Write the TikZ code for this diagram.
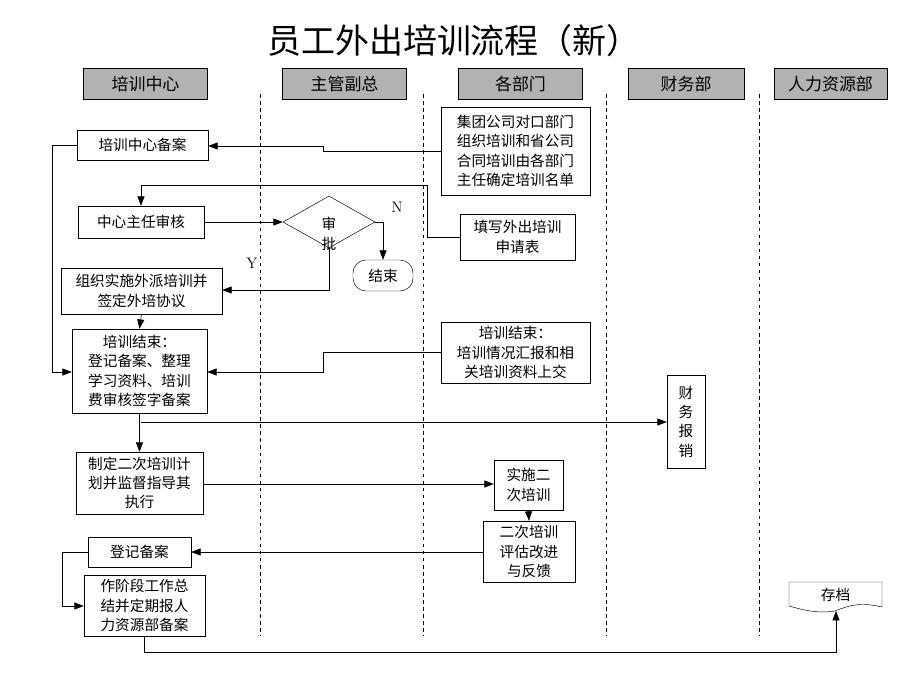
\documentclass[tikz,border=0pt]{standalone}
\usepackage{fontspec}
\newfontfamily\cjk{Noto Sans CJK SC}
\usepackage{tikz}
\usetikzlibrary{shapes.geometric, arrows.meta}

\begin{document}
\begin{tikzpicture}[x=0.03cm, y=-0.03cm,
    box/.style={rectangle, draw, inner sep=1pt, align=center, font=\cjk\fontsize{12.5}{16.5}\selectfont},
    lane/.style={rectangle, draw, thick, fill=black!30, minimum width=3.7cm, minimum height=0.93cm, font=\cjk\fontsize{14.5}{17}\selectfont},
    sep/.style={dashed, thick},
    arrow/.style={-{Triangle[length=8pt, width=6pt]}}
]
    \useasboundingbox (0,0) rectangle (920,690);

    % Title
    \node[font=\cjk\fontsize{29}{34}\selectfont] (title) at (454,41) {员工外出培训流程（新）};

    % Lanes
    \node[lane] (lane1) at (145.5,84) {培训中心};
    \node[lane] (lane2) at (344.5,84) {主管副总};
    \node[lane] (lane3) at (520.5,84) {各部门};
    \node[lane, minimum width=3.48cm] (lane4) at (686,84) {财务部};
    \node[lane, minimum width=3.39cm] (lane5) at (830.5,84) {人力资源部};

    % Separators
    \coordinate (s1a) at (260,94);  \coordinate (s1b) at (260,636);
    \coordinate (s2a) at (423,94);  \coordinate (s2b) at (423,636);
    \coordinate (s3a) at (606,94);  \coordinate (s3b) at (606,636);
    \coordinate (s4a) at (759,94);  \coordinate (s4b) at (759,636);
    \draw[sep] (s1a) -- (s1b);
    \draw[sep] (s2a) -- (s2b);
    \draw[sep] (s3a) -- (s3b);
    \draw[sep] (s4a) -- (s4b);

    % Training centre
    \node[box, minimum width=3.93cm, minimum height=0.9cm] (beian) at (142.5,145) {培训中心备案};
    \node[box, minimum width=3.78cm, minimum height=0.96cm] (shenhe) at (141,222) {中心主任审核};
    \node[box, minimum width=4.83cm, minimum height=1.38cm] (zuzhi) at (141.5,291) {组织实施外派培训并\\签定外培协议};
    \node[box, minimum width=4.05cm, minimum height=2.52cm] (jieshu1) at (139.5,371) {培训结束：\\登记备案、整理\\学习资料、培训\\费审核签字备案};
    \node[box, minimum width=3.81cm, minimum height=1.86cm] (zhiding) at (139.5,483) {制定二次培训计\\划并监督指导其\\执行};
    \node[box, minimum width=3.09cm, minimum height=0.9cm] (dengji) at (139.5,552) {登记备案};
    \node[box, minimum width=3.63cm, minimum height=1.83cm] (zongjie) at (144.5,605.5) {作阶段工作总\\结并定期报人\\力资源部备案};

    % Vice president
    \node[diamond, draw, minimum width=2.76cm, minimum height=1.56cm, inner sep=0pt] (shenpi) at (329,222) {};
    \node[font=\cjk\fontsize{12.5}{17}\selectfont, align=center] (shenpit) at (329,234) {审\\批};
    \node[box, rounded corners=11pt, minimum width=1.8cm, minimum height=0.93cm] (end) at (383,275.5) {结束};

    % Departments
    \node[box, minimum width=4.47cm, minimum height=2.64cm] (jituan) at (515.5,151) {集团公司对口部门\\组织培训和省公司\\合同培训由各部门\\主任确定培训名单};
    \node[box, minimum width=3.45cm, minimum height=1.38cm] (tianxie) at (517.5,237) {填写外出培训\\申请表};
    \node[box, minimum width=4.47cm, minimum height=1.83cm] (jieshu2) at (515.5,352.5) {培训结束：\\培训情况汇报和相\\关培训资料上交};
    \node[box, minimum width=2.07cm, minimum height=1.5cm] (shishi) at (528.5,485) {实施二\\次培训};
    \node[box, minimum width=2.76cm, minimum height=1.83cm] (pinggu) at (529,551.5) {二次培训\\评估改进\\与反馈};

    % Finance
    \node[box, minimum width=1.14cm, minimum height=2.79cm] (baoxiao) at (686,421.5) {财\\务\\报\\销};

    % HR
    \node[font=\cjk\fontsize{12.5}{16}\selectfont, minimum width=2.79cm, minimum height=0.75cm] (cundang) at (835.5,594.5) {存档};
    \draw (789,582) -- (882,582) -- (882,607)
        .. controls (860,602) and (850,605) .. (835,611)
        .. controls (815,614) and (800,609) .. (789,606) -- cycle;
    \coordinate (cdb) at (836,611);

    % Labels
    \node[font=\fontsize{13}{15}\selectfont] (lblN) at (397,207) {N};
    \node[font=\fontsize{13}{15}\selectfont] (lblY) at (252,263) {Y};

    % Arrows
    \draw[arrow] (jituan.west |- 0,151) -- (323,151) -- (323,146) -- (beian.east |- 0,146);
    \draw[arrow] (beian.west) -- (52,145) -- (52,372) -- (jieshu1.west |- 0,372);
    \draw[arrow] (tianxie.west) -- (427,237) -- (427,185) -- (141,185) -- (shenhe.north);
    \draw[arrow] (shenhe.east) -- (shenpi.west);
    \draw[arrow] (shenpi.east) -- (383,222) -- (end.north);
    \draw[arrow] (shenpi.south) -- (329,290) -- (zuzhi.east |- 0,290);
    \draw[arrow] (zuzhi.south) -- (jieshu1.north);
    \draw[arrow] (jieshu2.west) -- (323,352.5) -- (323,372) -- (jieshu1.east |- 0,372);
    \draw[arrow] (jieshu1.south) -- (zhiding.north);
    \draw[arrow] (141,422) -- (baoxiao.west |- 0,422);
    \draw[arrow] (zhiding.east |- 0,484) -- (shishi.west |- 0,484);
    \draw[arrow] (shishi.south) -- (pinggu.north);
    \draw[arrow] (pinggu.west |- 0,552) -- (dengji.east);
    \draw[arrow] (dengji.west) -- (62,552) -- (62,606) -- (zongjie.west |- 0,606);
    \draw[arrow] (zongjie.south) -- (144.5,652) -- (836,652) -- (cdb);
\end{tikzpicture}
\end{document}
